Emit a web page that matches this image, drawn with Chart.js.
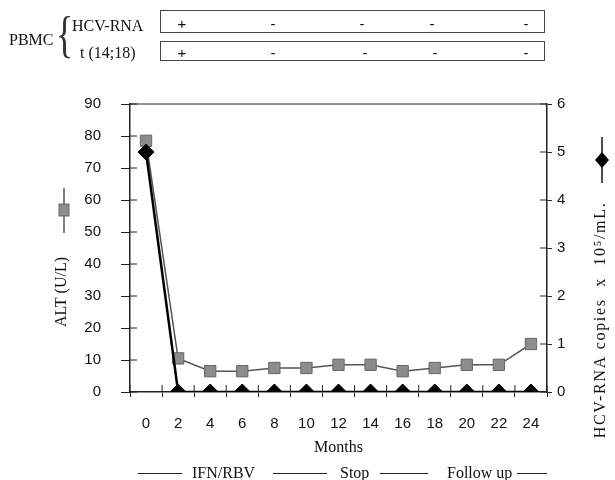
<!DOCTYPE html>
<html>
<head>
<meta charset="utf-8">
<script src="https://cdn.jsdelivr.net/npm/chart.js@4.4.1/dist/chart.umd.min.js"></script>
<style>
  html, body { margin: 0; padding: 0; background: #fff; }
  #wrap { position: relative; width: 615px; height: 480px; overflow: hidden; }
  #c { position: absolute; left: 0; top: 0; }
  .t { position: absolute; font-family: "Liberation Serif", serif; font-size: 16px; color: #111; white-space: nowrap; line-height: 1; }
  .box { position: absolute; left: 160px; width: 383px; border: 1.5px solid #444; }
  .sign { position: absolute; font-family: "Liberation Sans", sans-serif; font-size: 15px; color: #111; transform: translateX(-50%); line-height: 1; }
  .seg { position: absolute; height: 0; border-top: 1px solid #222; top: 473px; }
</style>
</head>
<body>
<div id="wrap">
  <canvas id="c" width="615" height="480"></canvas>
</div>
<script>
// ── DATA ─────────────────────────────────────────────────────────────
const months    = ['0', '2', '4', '6', '8', '10', '12', '14', '16', '18', '20', '22', '24'];
const altValues = [78.5, 10.5, 6.5, 6.5, 7.5, 7.5, 8.5, 8.5, 6.5, 7.5, 8.5, 8.5, 15];
const hcvValues = [5, 0, 0, 0, 0, 0, 0, 0, 0, 0, 0, 0, 0];

const pbmcRows   = ['HCV-RNA', 't (14;18)'];
const pbmcHcv    = ['+', '-', '-', '-', '-'];
const pbmcT1418  = ['+', '-', '-', '-', '-'];
const phaseLabels = ['IFN/RBV', 'Stop', 'Follow up'];

// ── PBMC TABLE + PHASE ROW (html) ────────────────────────────────────
const wrap = document.getElementById('wrap');
function addEl(cls, text, css) {
  const el = document.createElement('div');
  el.className = cls;
  if (text != null) el.textContent = text;
  Object.assign(el.style, css);
  wrap.appendChild(el);
  return el;
}
addEl('t', 'PBMC', { left: '9px', top: '32px' });
addEl('t', '{', { left: '56px', top: '9px', fontSize: '50px', transform: 'scaleX(0.72)', transformOrigin: 'left top', color: '#333' });
addEl('t', pbmcRows[0], { left: '72px', top: '18px' });
addEl('t', pbmcRows[1], { left: '80px', top: '45px' });
addEl('box', null, { top: '10px', height: '21px' });
addEl('box', null, { top: '41px', height: '18px' });
const signX = [[182, 273, 362, 432, 526], [182, 273, 365, 435, 526]];
[pbmcHcv, pbmcT1418].forEach((row, r) => {
  row.forEach((s, i) => addEl('sign', s, { left: signX[r][i] + 'px', top: (r === 0 ? 16 : 45) + 'px' }));
});
[[138, 182], [273, 327], [380, 428], [517, 547]].forEach(([a, b]) => addEl('seg', null, { left: a + 'px', width: (b - a) + 'px' }));
[192, 340, 447].forEach((x, i) => addEl('t', phaseLabels[i], { left: x + 'px', top: '465px' }));

// ── FRAME, INNER TICKS, AXIS TITLES + LEGEND MARKERS ─────────────────
function vText(ctx, text, x, y, spacing) {
  ctx.save();
  ctx.translate(x, y);
  ctx.rotate(-Math.PI / 2);
  ctx.fillStyle = '#111';
  ctx.font = '16px "Liberation Serif", serif';
  ctx.letterSpacing = spacing;
  ctx.textAlign = 'center'; ctx.textBaseline = 'middle';
  ctx.fillText(text, 0, 0);
  ctx.restore();
}

const extras = {
  id: 'extras',
  afterDraw(chart) {
    const { ctx, chartArea: a, scales } = chart;
    ctx.save();
    ctx.strokeStyle = '#222';
    ctx.lineWidth = 1;
    ctx.beginPath();
    ctx.moveTo(a.left, a.top); ctx.lineTo(a.right, a.top);
    // inner halves of the crossing ticks
    scales.y.ticks.forEach(t => { const p = scales.y.getPixelForValue(t.value); ctx.moveTo(a.left, p); ctx.lineTo(a.left + 7, p); });
    scales.y1.ticks.forEach(t => { const p = scales.y1.getPixelForValue(t.value); ctx.moveTo(a.right - 7, p); ctx.lineTo(a.right, p); });
    const n = months.length, w = (a.right - a.left) / n;
    for (let i = 0; i <= n; i++) { const p = a.left + i * w; ctx.moveTo(p, a.bottom); ctx.lineTo(p, a.bottom - 7); }
    ctx.stroke();

    // left marker: line + grey square, then title
    const lx = a.left - 66, ly = a.top + 106;
    ctx.beginPath(); ctx.strokeStyle = '#555'; ctx.lineWidth = 1.5;
    ctx.moveTo(lx, ly - 22); ctx.lineTo(lx, ly + 23); ctx.stroke();
    ctx.fillStyle = '#8c8c8c'; ctx.fillRect(lx - 5, ly - 6, 10, 12);
    ctx.strokeStyle = '#666'; ctx.lineWidth = 1; ctx.strokeRect(lx - 5, ly - 6, 10, 12);
    vText(ctx, 'ALT (U/L)', lx - 2, a.top + 188, '0px');

    // right marker: line + black diamond, then title
    const rx = a.right + 55, ry = a.top + 56;
    ctx.beginPath(); ctx.strokeStyle = '#111'; ctx.lineWidth = 1.5;
    ctx.moveTo(rx, ry - 23); ctx.lineTo(rx, ry + 23); ctx.stroke();
    ctx.beginPath(); ctx.fillStyle = '#000';
    ctx.moveTo(rx, ry - 8); ctx.lineTo(rx + 7, ry); ctx.lineTo(rx, ry + 8); ctx.lineTo(rx - 7, ry); ctx.closePath(); ctx.fill();
    vText(ctx, 'HCV-RNA copies  x  10\u2075/mL.', rx - 1, a.top + 216, '1.7px');
    ctx.restore();
  }
};

const sans = { family: '"Liberation Sans", Arial, sans-serif', size: 15 };
const serif = { family: '"Liberation Serif", serif', size: 16 };

new Chart(document.getElementById('c'), {
  type: 'line',
  data: {
    labels: months,
    datasets: [
      { label: 'ALT', data: altValues, yAxisID: 'y', order: 1,
        borderColor: '#555', borderWidth: 1.5, backgroundColor: '#8c8c8c',
        pointStyle: 'rect', pointRadius: 8, pointBorderColor: '#666', pointBorderWidth: 1 },
      { label: 'HCV-RNA', data: hcvValues, yAxisID: 'y1', order: 0,
        borderColor: '#000', borderWidth: 2.5, backgroundColor: '#000',
        pointStyle: 'rectRot', pointRadius: 8, pointBorderColor: '#000', pointBorderWidth: 1 }
    ]
  },
  options: {
    responsive: false, animation: false, devicePixelRatio: 1,
    layout: { padding: { top: 104, left: 0, right: 0, bottom: 0 } },
    plugins: { legend: { display: false }, tooltip: { enabled: false } },
    scales: {
      x: {
        type: 'category', offset: true,
        grid: { offset: true, drawOnChartArea: false, color: '#222', tickLength: 5 },
        border: { color: '#222', width: 1.5 },
        ticks: { color: '#111', font: sans, padding: 18, maxRotation: 0, autoSkip: false },
        title: { display: true, text: 'Months', color: '#111', font: serif, padding: { top: 0, bottom: 23 } },
        afterFit: s => { s.height = 88; }
      },
      y: {
        position: 'left', min: 0, max: 90,
        grid: { drawOnChartArea: false, color: '#222', tickLength: 9 },
        border: { color: '#222', width: 1.5 },
        ticks: { stepSize: 10, color: '#111', font: sans, padding: 20 },
        afterFit: s => { s.width = 130; }
      },
      y1: {
        position: 'right', min: 0, max: 6,
        grid: { drawOnChartArea: false, color: '#222', tickLength: 5 },
        border: { color: '#222', width: 1.5 },
        ticks: { stepSize: 1, color: '#111', font: sans, padding: 5 },
        afterFit: s => { s.width = 68; }
      }
    }
  },
  plugins: [extras]
});
</script>
</body>
</html>
